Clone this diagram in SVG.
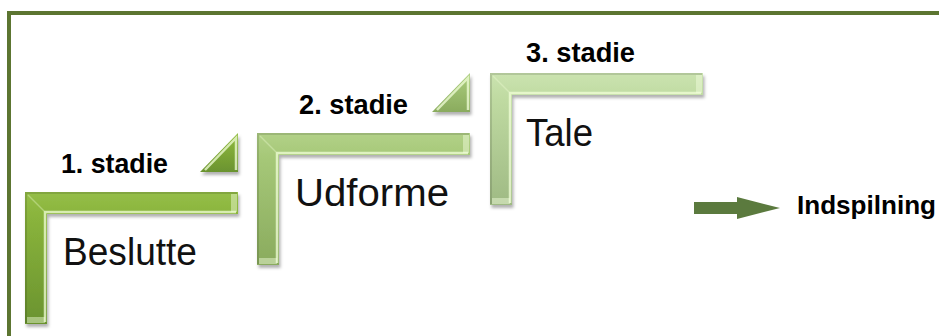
<svg xmlns="http://www.w3.org/2000/svg" width="939" height="336" viewBox="0 0 939 336">
<defs>
<style>
.stage{font-family:"Liberation Sans",Arial,sans-serif;font-weight:bold;font-size:27px;fill:#000}
.name{font-family:"Liberation Sans",Arial,sans-serif;font-size:38px;fill:#111}
.hi{fill:none;stroke:#f2ffd8;stroke-width:2.5;opacity:0.75}
.mit{fill:none;stroke:#f2ffd8;stroke-width:1.5;opacity:0.35}
.lo{fill:none;stroke:#000;stroke-width:2;opacity:0.12}
.cap{fill:#f4ffe0;opacity:0.45}
</style>
<linearGradient id="g1" x1="0" y1="0" x2="0" y2="1">
<stop offset="0" stop-color="#95be48"/><stop offset="0.18" stop-color="#8ab43c"/><stop offset="1" stop-color="#6a932f"/>
</linearGradient>
<linearGradient id="g2" x1="0" y1="0" x2="0" y2="1">
<stop offset="0" stop-color="#b2d188"/><stop offset="0.18" stop-color="#a6c878"/><stop offset="1" stop-color="#8aab5e"/>
</linearGradient>
<linearGradient id="g3" x1="0" y1="0" x2="0" y2="1">
<stop offset="0" stop-color="#cbe3b0"/><stop offset="0.18" stop-color="#c0dba2"/><stop offset="1" stop-color="#9fba84"/>
</linearGradient>
<filter id="sh" x="-10%" y="-10%" width="125%" height="125%">
<feDropShadow dx="1.5" dy="3" stdDeviation="1.5" flood-color="#000" flood-opacity="0.3"/>
</filter>
<path id="L" d="M0,0 H213 V22 H22 V132 H0 Z"/>
<path id="Lhi" d="M211,20 H20 V130"/>
<path id="Llo" d="M1,131 V1 H212"/>
<path id="Lmit" d="M3,3 L19,19"/>
<path id="tri" d="M0,39 H38 V0 Z"/>
<path id="trihi" d="M5,37 L36,5 V37"/>
</defs>

<path id="frame" d="M9,336 V13 H939" fill="none" stroke="#5c7531" stroke-width="4"/>

<g id="step1">
<g transform="translate(25,192)">
<use href="#L" fill="url(#g1)" filter="url(#sh)"/>
<use href="#Llo" class="lo"/>
<use href="#Lhi" class="hi"/>
<use href="#Lmit" class="mit"/>
<rect x="206" y="2" width="6" height="18" class="cap"/>
<rect x="2" y="125" width="18" height="6" class="cap"/>
</g>
<g transform="translate(200,133)">
<use href="#tri" fill="url(#g1)" filter="url(#sh)"/>
<use href="#trihi" class="hi"/>
</g>
<text class="stage" x="61" y="173" textLength="107" lengthAdjust="spacingAndGlyphs">1. stadie</text>
<text class="name" x="63" y="265" textLength="134" lengthAdjust="spacingAndGlyphs">Beslutte</text>
</g>

<g id="step2">
<g transform="translate(257,133)">
<use href="#L" fill="url(#g2)" filter="url(#sh)"/>
<use href="#Llo" class="lo"/>
<use href="#Lhi" class="hi"/>
<use href="#Lmit" class="mit"/>
<rect x="206" y="2" width="6" height="18" class="cap"/>
<rect x="2" y="125" width="18" height="6" class="cap"/>
</g>
<g transform="translate(432,73)">
<use href="#tri" fill="url(#g2)" filter="url(#sh)"/>
<use href="#trihi" class="hi"/>
</g>
<text class="stage" x="299" y="114" textLength="109" lengthAdjust="spacingAndGlyphs">2. stadie</text>
<text class="name" x="295" y="206" textLength="154" lengthAdjust="spacingAndGlyphs">Udforme</text>
</g>

<g id="step3">
<g transform="translate(490,73)">
<use href="#L" fill="url(#g3)" filter="url(#sh)"/>
<use href="#Llo" class="lo"/>
<use href="#Lhi" class="hi"/>
<use href="#Lmit" class="mit"/>
<rect x="206" y="2" width="6" height="18" class="cap"/>
<rect x="2" y="125" width="18" height="6" class="cap"/>
</g>
<text class="stage" x="526" y="62" textLength="109" lengthAdjust="spacingAndGlyphs">3. stadie</text>
<text class="name" x="526" y="146" textLength="67" lengthAdjust="spacingAndGlyphs">Tale</text>
</g>

<g id="connectors">
<path d="M694,202 H737 V197 L780,208 L737,219 V214 H694 Z" fill="#5b7a3e"/>
</g>

<g id="end">
<text class="stage" x="797" y="214" style="font-size:26px" textLength="139" lengthAdjust="spacingAndGlyphs">Indspilning</text>
</g>
</svg>
